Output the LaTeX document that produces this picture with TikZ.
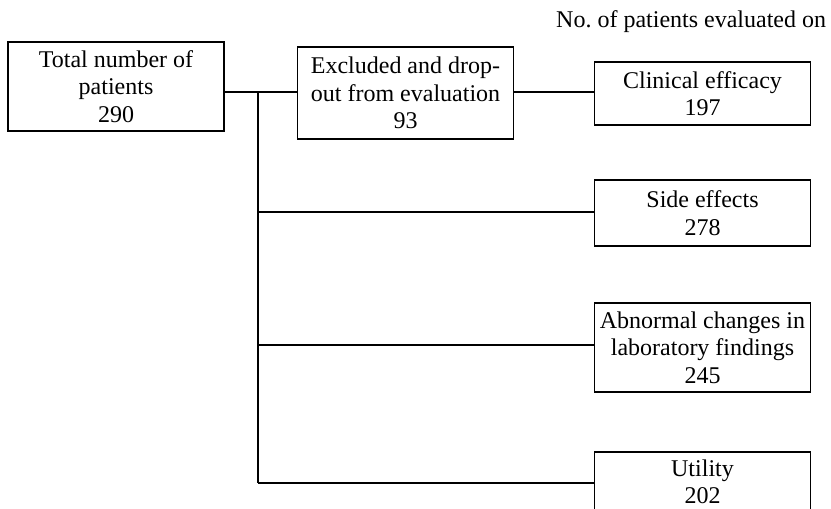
\documentclass[tikz,border=0pt]{standalone}
\usepackage{fontspec}
\setmainfont{Liberation Serif}
\usepackage{tikz}
\usetikzlibrary{positioning}

\begin{document}
\begin{tikzpicture}[x=1pt, y=-1pt, line width=1.1pt,
  box/.style={draw, rectangle, align=center, inner sep=0pt, minimum width=216pt},
  txt/.style={font=\fontsize{24}{27.5}\selectfont}]

\useasboundingbox (0,0) rectangle (831,509);

% Boxes
\node[box, txt, minimum height=89pt] (total) at (116,86.5) {Total number of\\patients\\290};
\node[box, txt, minimum height=92pt] (excl) at (405.5,93) {Excluded and drop-\\out from evaluation\\93};
\node[box, txt, minimum height=63pt] (clin) at (702.5,93.5) {Clinical efficacy\\197};
\node[box, txt, minimum height=66pt] (side) at (702.5,213) {Side effects\\278};
\node[box, txt, minimum height=89pt] (abn) at (702.5,347.5) {Abnormal changes in\\laboratory findings\\245};
\node[box, txt, minimum height=60pt] (util) at (702.5,482) {Utility\\202};

\node[txt, anchor=east] (head) at (830,22) {No.\ of patients evaluated on};

% Junctions
\coordinate (j0) at (258,92);
\coordinate (j1) at (258,212);
\coordinate (j2) at (258,345);
\coordinate (j3) at (258,483);

% Lines
\draw (j0 -| total.east) -- (j0 -| excl.west);
\draw (j0 -| excl.east) -- (j0 -| clin.west);
\draw (j0) -- (j3);
\draw (j1) -- (j1 -| side.west);
\draw (j2) -- (j2 -| abn.west);
\draw (j3) -- (j3 -| util.west);

\end{tikzpicture}
\end{document}
